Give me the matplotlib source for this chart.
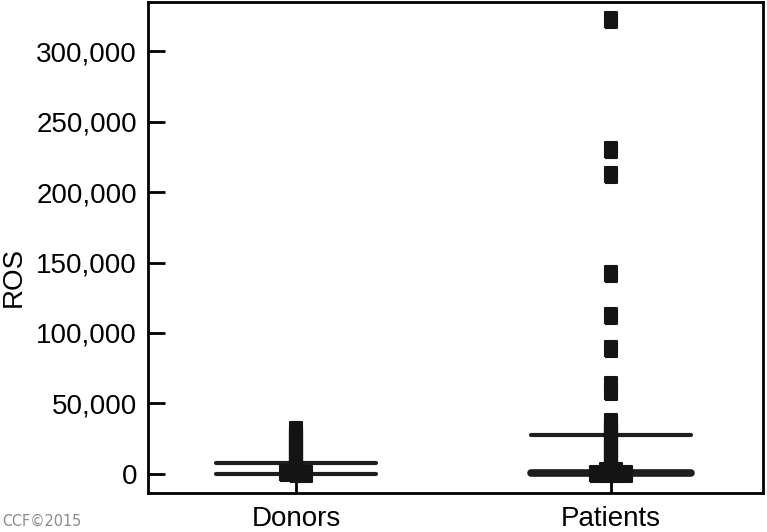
import numpy as np
import matplotlib.pyplot as plt

plt.rcParams['font.family'] = ['Liberation Sans', 'DejaVu Sans']

groups = ['Donors', 'Patients']

donors = [0, 200, 400, 3500, 6000, 8500, 11000, 13500, 16000, 18500,
          21000, 23500, 26000, 28500, 31000]
patients = [0, 100, 200, 300, 2200, 2400, 4500, 7000, 9500, 12000, 14500,
            17000, 19500, 22000, 24500, 27000, 29500, 32000, 34500, 37000,
            58000, 63000, 88500, 112000, 142000, 212000, 230000, 322000]

# horizontal lines per group
donor_lines = [0, 7800]
patient_lines = [700, 27700]
line_widths = [[3.0, 3.0], [5.5, 3.0]]

fig = plt.figure(figsize=(7.67, 5.32), dpi=100)
ax = fig.add_axes([0.193, 0.0733, 0.802, 0.9227])
ax.set_xlim(0.53, 2.483)
ax.set_ylim(-13500, 334700)


def swarm_offsets(vals, ax, step_px=10, ty_px=3, tx_px=10, gap=1500):
    # simple beeswarm in pixel space, rows centred afterwards
    ppu_y = ax.transData.transform((0, 1))[1] - ax.transData.transform((0, 0))[1]
    ppu_x = ax.transData.transform((1, 0))[0] - ax.transData.transform((0, 0))[0]
    cands = [0]
    for i in range(1, 20):
        cands += [i * step_px, -i * step_px]
    placed = []
    for v in vals:
        y = v * ppu_y
        for c in cands:
            if all(not (abs(py - y) < ty_px and abs(px - c) < tx_px) for px, py in placed):
                break
        placed.append((c, y))
    offs = np.array([p[0] for p in placed], dtype=float)
    # centre each group of near-equal values
    start = 0
    for k in range(1, len(vals) + 1):
        if k == len(vals) or vals[k] - vals[k - 1] > gap:
            seg = offs[start:k]
            offs[start:k] = seg - (seg.max() + seg.min()) / 2
            start = k
    return offs / ppu_x


marker = [(-0.8, -1), (0.8, -1), (0.8, 1), (-0.8, 1), (-0.8, -1)]
color = '#141414'

for i, (vals, lines) in enumerate([(donors, donor_lines), (patients, patient_lines)]):
    xc = i + 1
    vals = np.array(sorted(vals))
    offs = swarm_offsets(vals, ax)
    ax.plot(xc + offs, vals, linestyle='none', marker=marker, markersize=11,
            color=color, markeredgecolor=color, markeredgewidth=1.5, zorder=3)
    for j, lv in enumerate(lines):
        ax.plot([xc - 0.255, xc + 0.255], [lv, lv], color='#1e1e1e',
                linewidth=line_widths[i][j], solid_capstyle='round', zorder=2)

ax.set_xticks([1, 2])
ax.set_xticklabels(groups)
ax.set_yticks(range(0, 300001, 50000))
ax.set_yticklabels([f'{v:,}' for v in range(0, 300001, 50000)])
ax.tick_params(direction='in', length=12, width=2, labelsize=20, pad=8, color='black')
ax.tick_params(axis='x', pad=9)
for s in ax.spines.values():
    s.set_linewidth(2)
ax.set_ylabel('ROS', fontsize=20)
ax.yaxis.set_label_coords(-0.197, 0.44)

fig.text(0.003, 0.012, 'CCF\u00a92015', fontsize=11.5, color='#8a8a8a',
         family=['Liberation Sans Narrow', 'DejaVu Sans'], stretch='condensed')

fig.savefig('out.png', dpi=100)
